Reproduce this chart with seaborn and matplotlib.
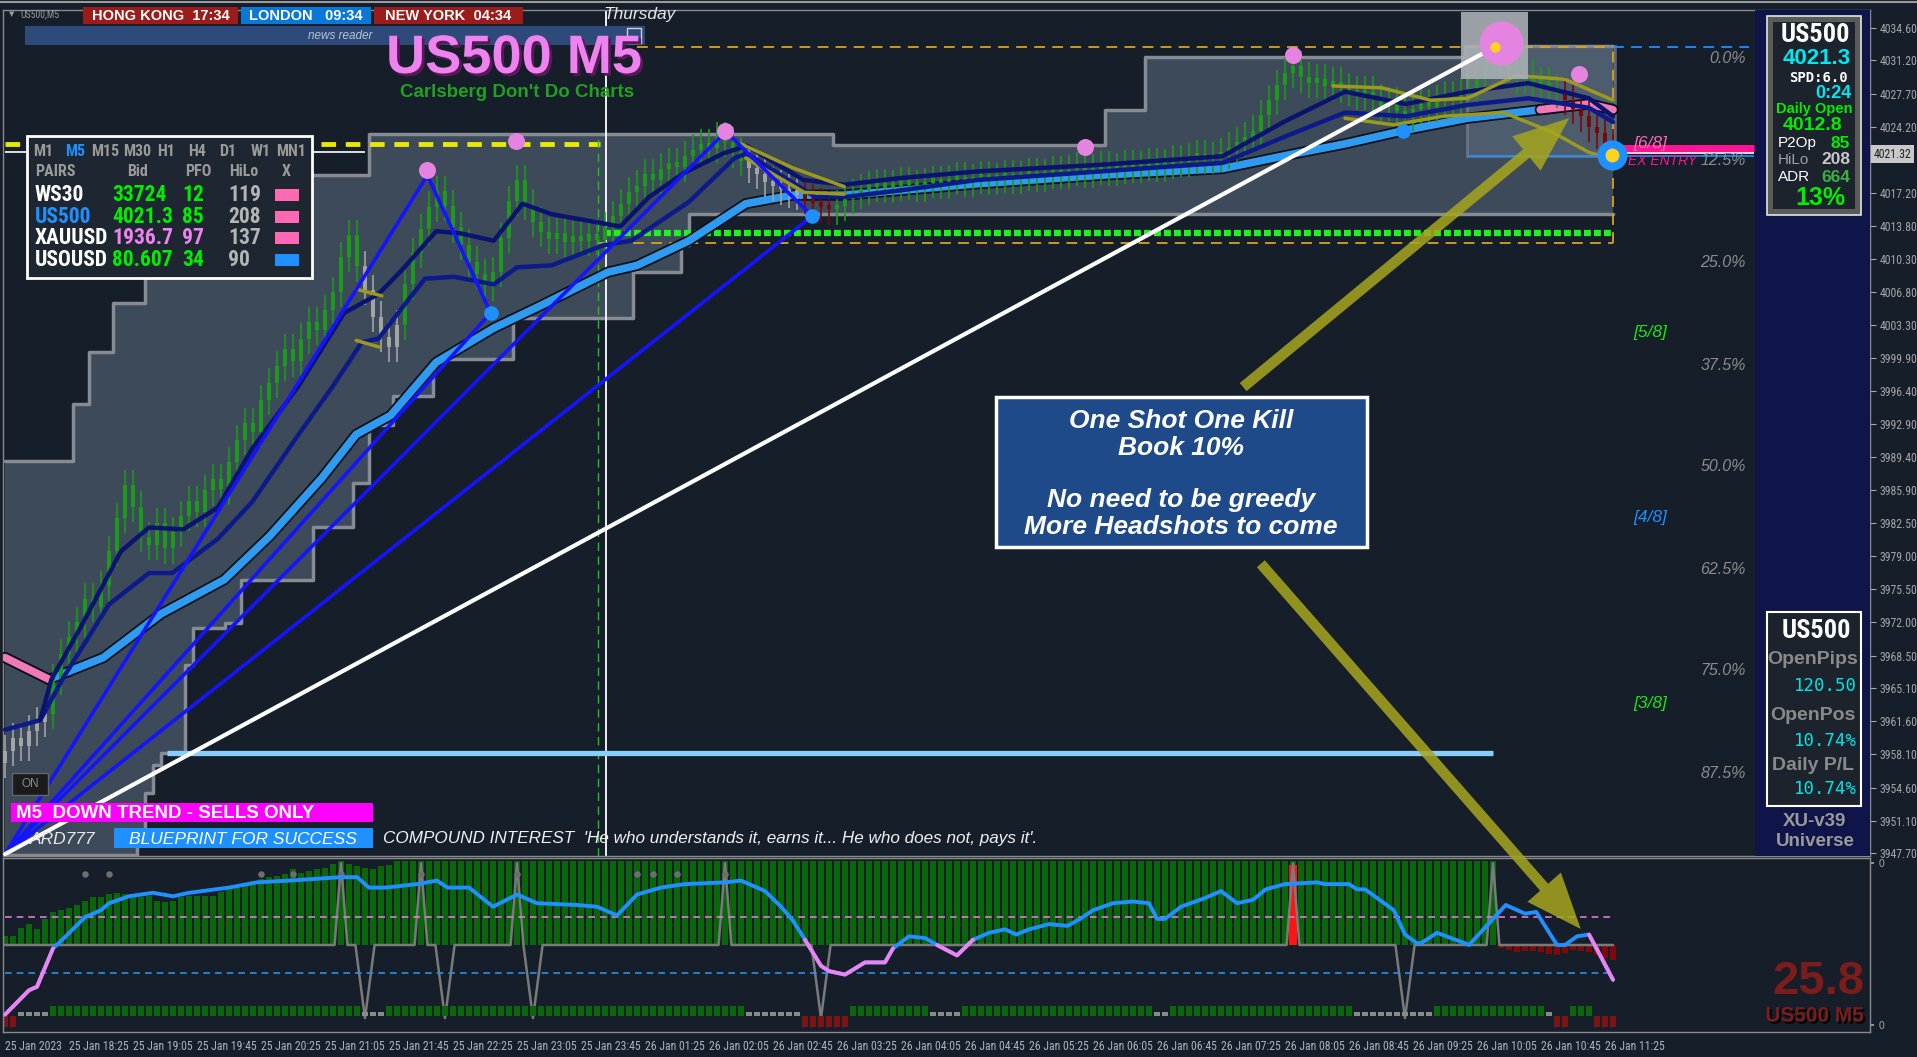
import matplotlib
matplotlib.use("Agg")
import matplotlib.pyplot as plt
import matplotlib.patheffects as pe
from matplotlib import font_manager as fm
from matplotlib.patches import Rectangle
import numpy as np
import pandas as pd
import seaborn as sns

# ---------------- data ----------------
# M5 closes, one per bar (bar 0 = 25 Jan 17:45)
closes = [
    3958.5, 3959.8, 3959.0, 3960.6, 3961.5, 3962.4,
    3966.0, 3968.7, 3970.5,
    3972.0, 3974.5, 3973.6, 3975.8,
    3979.5, 3983.0, 3986.5, 3984.2,
    3981.0, 3980.2, 3982.5, 3979.8, 3981.5, 3983.2,
    3984.8, 3983.6, 3985.9, 3987.1, 3986.0,
    3988.9, 3991.2, 3993.0, 3992.1, 3995.4, 3997.2,
    3999.0, 4000.8, 3999.5, 4001.9, 4003.6, 4002.8, 4004.9,
    4006.8, 4010.5, 4012.8, 4009.5,
    4007.0, 4004.2, 4002.1, 4001.0, 4003.3,
    4007.6, 4010.9, 4013.4, 4015.8,
    4017.4, 4015.9, 4013.6,
    4011.8, 4010.0, 4008.7, 4007.4, 4008.9,
    4012.5, 4016.4, 4018.6, 4016.0,
    4014.2, 4013.1, 4012.4, 4013.0, 4012.1, 4012.7, 4012.2, 4012.9, 4012.3,
    4013.6, 4014.8, 4016.1, 4017.3,
    4018.0, 4019.2, 4018.6, 4019.8, 4020.4, 4020.0, 4021.1,
    4021.8, 4022.4, 4022.0, 4023.1, 4022.6,
    4021.5, 4020.6, 4019.9, 4019.2, 4018.4, 4018.0,
    4017.6, 4017.2, 4017.0, 4016.6, 4016.2,
    4015.8, 4015.5, 4015.9, 4016.6,
    4017.1, 4017.6, 4017.9, 4018.2, 4017.8, 4018.0, 4018.4, 4018.1, 4017.9, 4018.3,
    4018.5, 4018.2, 4018.6, 4018.9, 4018.4, 4018.7, 4019.0, 4018.6, 4018.8, 4019.1,
    4018.7, 4019.0, 4019.3, 4018.9, 4019.2,
    4019.5, 4019.2, 4019.6, 4019.9, 4019.4, 4019.7, 4020.0, 4019.6, 4019.8, 4020.2,
    4019.9, 4020.1, 4020.4, 4020.0, 4020.3,
    4020.7, 4020.5, 4020.9, 4021.2, 4020.8, 4021.0, 4021.4,
    4022.0, 4022.6, 4023.1, 4023.8,
    4025.4, 4027.0, 4028.6, 4029.9, 4030.6,
    4029.4, 4028.8, 4029.2, 4028.5, 4028.9, 4028.3, 4028.0,
    4027.6, 4027.9, 4027.1, 4026.4, 4026.8, 4025.9, 4025.4,
    4026.1, 4026.6, 4026.3, 4027.0, 4027.4, 4027.1, 4027.8, 4028.2,
    4029.6, 4031.0, 4032.1, 4031.3,
    4029.9, 4029.2, 4029.6, 4028.7, 4028.9, 4028.2, 4027.8,
    4027.0, 4026.1, 4025.3, 4024.2, 4023.5,
    4022.4, 4021.3,
]
first_open = 3957.2
gray_runs = [(0, 6), (45, 50), (93, 100)]
red_runs = [(100, 104), (195, 202)]

time_labels = ["25 Jan 2023", "25 Jan 18:25", "25 Jan 19:05", "25 Jan 19:45", "25 Jan 20:25",
               "25 Jan 21:05", "25 Jan 21:45", "25 Jan 22:25", "25 Jan 23:05", "25 Jan 23:45",
               "26 Jan 01:25", "26 Jan 02:05", "26 Jan 02:45", "26 Jan 03:25", "26 Jan 04:05",
               "26 Jan 04:45", "26 Jan 05:25", "26 Jan 06:05", "26 Jan 06:45", "26 Jan 07:25",
               "26 Jan 08:05", "26 Jan 08:45", "26 Jan 09:25", "26 Jan 10:05", "26 Jan 10:45",
               "26 Jan 11:25"]
price_ticks = [4034.60, 4031.20, 4027.70, 4024.20, 4020.70, 4017.20, 4013.80, 4010.30, 4006.80,
               4003.30, 3999.90, 3996.40, 3992.90, 3989.40, 3985.90, 3982.50, 3979.00, 3975.50,
               3972.00, 3968.50, 3965.10, 3961.60, 3958.10, 3954.60, 3951.10, 3947.70]
last_price = 4021.32

# price channel (step levels: bar where the level starts, level)
ch_up_bar = [0, 9, 11, 14, 18, 24, 38, 46, 104, 138, 143, 183]
ch_up_val = [3989.0, 3995.0, 4000.5, 4005.6, 4009.0, 4014.0, 4019.1, 4023.4, 4022.3, 4026.0, 4031.6, 4032.7]
ch_lo_bar = [0, 17, 18, 19, 20, 23, 24, 28, 30, 39, 44, 46, 49, 54, 64, 79, 85, 86]
ch_lo_val = [3947.5, 3950.0, 3954.0, 3957.0, 3958.3, 3967.5, 3971.4, 3971.9, 3976.5, 3982.0,
             3986.7, 3992.8, 3995.8, 3999.7, 4004.1, 4008.9, 4011.7, 4015.0]

# moving averages (bar, price)
ma_slow_bar = [0, 5.5, 12.3, 19.5, 27.4, 33.1, 39.6, 43.9, 48.2, 53.9, 61.1, 66.8, 75.4, 79, 85.5,
               92.6, 98.4, 104.9, 111.9, 121.6, 137, 152.2, 161.4, 167.5, 174.8, 182.8, 191.9, 198, 201]
ma_slow_val = [3968.3, 3966.0, 3968.3, 3972.9, 3976.5, 3981.1, 3987.2, 3991.8, 3993.8, 3999.4,
               4003.0, 4005.3, 4008.9, 4009.6, 4012.2, 4016.1, 4017.0, 4017.0, 4017.5, 4018.2,
               4019.1, 4019.8, 4021.4, 4022.4, 4023.8, 4025.1, 4026.0, 4026.6, 4026.0]
ma_slow_pink = [(0, 5.5), (191.9, 201)]
ma_fast1_bar = [4.4, 5.8, 9.4, 14.5, 18.0, 22.3, 26.6, 30.9, 36.7, 42.4, 46.7, 49.6, 53.9, 56.8,
                61.1, 64.7, 68.3, 76.9, 80.5, 84.8, 89.8, 92.7, 99.8, 104.9, 111.9, 121.6, 137,
                152.2, 159.8, 167.5, 175.1, 182.8, 190.4, 198, 201]
ma_fast1_val = [3961.7, 3966.0, 3971.4, 3979.5, 3982.0, 3981.8, 3984.1, 3990.3, 3996.9, 4004.6,
                4006.6, 4009.1, 4013.2, 4013.0, 4012.2, 4016.1, 4015.0, 4013.7, 4016.8, 4019.3,
                4021.4, 4022.2, 4018.6, 4018.1, 4018.8, 4019.5, 4020.2, 4021.1, 4024.7, 4027.9,
                4026.6, 4027.9, 4028.8, 4027.2, 4025.3]
ma_fast2_bar = [0, 4.4, 7.3, 13.0, 18.0, 20.9, 26.6, 30.9, 36.7, 41, 44.6, 46.7, 49.6, 52.5, 56.1,
                61.1, 64, 68.3, 74.7, 78.3, 85.5, 91.2, 92.7, 101.3, 104.9, 111.9, 121.6, 137,
                152.2, 159.8, 167.5, 175.1, 182.8, 190.4, 198, 201]
ma_fast2_val = [3960.7, 3961.7, 3966.2, 3973.9, 3977.2, 3977.2, 3980.8, 3984.7, 3991.8, 3996.9,
                4001.5, 4001.9, 4005.1, 4008.2, 4008.4, 4007.6, 4009.4, 4009.6, 4011.7, 4012.2,
                4016.3, 4020.9, 4021.4, 4016.8, 4016.8, 4017.5, 4018.6, 4019.5, 4020.4, 4023.1,
                4025.7, 4025.3, 4026.5, 4027.2, 4026.2, 4024.7]
# short olive envelope pieces
band_bars = [[43.9, 47.1], [43.9, 46.8], [92, 98.4, 104.9], [92.6, 99.9, 104.9],
             [166, 172.1, 178.2, 182.8, 188.9, 195, 201], [167.5, 173.6, 179.7, 187.3, 193.5, 198, 201]]
band_vals = [[4007.1, 4006.4], [4001.7, 4001.0], [4022.4, 4019.9, 4017.9], [4020.9, 4017.3, 4017.1],
             [4028.5, 4028.3, 4027.0, 4027.2, 4029.6, 4029.2, 4027.0],
             [4025.1, 4024.4, 4025.3, 4025.7, 4023.6, 4021.5, 4020.8]]

# harmonic pattern pivots
piv_bar = [0, 52.8, 60.7, 90.1, 100.9]
piv_val = [3947.6, 4019.1, 4004.6, 4023.7, 4014.8]
piv_legs = [(0, 1), (1, 2), (2, 0), (0, 3), (3, 4), (4, 0)]
trend_bar = [0, 186.2]
trend_val = [3947.6, 4032.6]
support_val = 3958.3
support_span = (20.2, 186)

pink_dot_bar = [52.8, 63.9, 90, 135, 161, 196.8]
pink_dot_val = [4019.6, 4022.7, 4023.8, 4022.1, 4031.8, 4029.8]

fib_labels = ["0.0%", "12.5%", "25.0%", "37.5%", "50.0%", "62.5%", "75.0%", "87.5%"]
fib_prices = [4031.4, 4020.6, 4009.9, 3999.1, 3988.4, 3977.6, 3966.9, 3956.1]
mm_labels = ["[6/8]", "[5/8]", "[4/8]", "[3/8]"]
mm_prices = [4022.4, 4002.5, 3983.0, 3963.5]
mm_colors = ["#ff69b4", "#19e619", "#1e90ff", "#19e619"]

# lower oscillator
hist_vals = [55.4, 55.4, 60.0, 62.0, 59.0, 65.0, 69.0, 70.0, 71.0, 73.0,
             75.4, 77.3, 77.7, 79.2, 79.6, 79.2, 77.3, 77.3, 78.3, 75.4,
             74.5, 75.4, 77.3, 78.3, 78.3, 78.3, 78.3, 80.2, 82.1, 84.0,
             85.0, 86.9, 87.8, 89.1, 89.7, 90.7, 93.5, 91.1, 92.6, 93.5,
             94.5, 96.7, 98.3, 96.7, 95.4, 94.1, 93.5, 95.4, 96.0] + [98.3] * 138
hist_red = [48.4, 47.2, 45.9, 46.5, 46.5, 45.9, 45.0, 44.0, 45.4, 47.2, 46.5, 45.9, 44.0, 42.7, 41.5]
osc_bar = [0, 3, 4, 6, 7.6, 10, 12, 13, 15.5, 18.5, 21, 23, 28, 31.5, 35.5, 42, 44, 45.5, 47.6, 51.5,
           54, 55.3, 58, 61, 64, 66.5, 71.5, 74, 76.5, 79, 82, 85, 90, 92, 95, 97, 98.5, 100, 102, 103,
           105, 107.5, 110, 111, 113, 115, 116.5, 119, 121, 123, 125, 126.4, 128, 130.5, 132.8, 134.4,
           136, 138.5, 141, 143, 144, 145, 147, 150, 152, 154, 156, 157.6, 160, 164, 165, 168, 169,
           170, 173.6, 175, 176.5, 177, 179, 182.5, 183, 186.4, 187.6, 190, 191.4, 194, 195, 196.5,
           198, 199.4, 201]
osc_val = [10, 24, 26, 48, 55, 66, 70, 74, 78, 80, 78, 80, 83, 86, 87, 89, 89, 83, 83, 85,
           87, 83, 83, 72, 79, 74, 73, 72, 67, 79, 83, 85, 86, 87, 81, 72, 64, 53, 38, 35,
           33, 40, 40, 48, 55, 54, 50, 44, 53, 57, 59, 56, 59, 62, 61, 65, 70, 74, 75, 74,
           65, 65, 72, 77, 81, 74, 76, 82, 85, 86, 85, 85, 82, 82, 70, 56, 51, 51, 57, 51,
           50, 67, 73, 68, 69, 50, 50, 55, 56, 44, 30]
osc_pink = [(0, 6), (100, 111), (116.5, 121), (198, 201)]
spike_up = [42, 52, 64, 90, 161, 186]
spike_dn = [45, 55, 66, 102, 175]
top_dots = [10, 13, 32, 36, 42, 52, 64, 79, 81, 84, 90]
run_start = [0, 2, 6, 45, 48, 93, 100, 106, 116, 120, 144, 146, 169, 179, 193, 194, 196, 199]
run_end = [2, 6, 45, 48, 93, 100, 106, 116, 120, 144, 146, 169, 179, 193, 194, 196, 199, 202]
run_kind = ["r", "s", "g", "s", "g", "s", "r", "g", "s", "g", "s", "g", "s", "g", "s", "r", "g", "r"]

# ---------------- style ----------------
W, H = 1917, 1057
BG = "#161e2a"
NAVY = "#0f1548"
GREEN = "#1c9a1c"
OLIVE = "#a6a61c"

sns.set_theme(style="dark", rc={"axes.facecolor": BG, "figure.facecolor": BG,
                                "axes.edgecolor": "#8a8a8a", "grid.color": BG,
                                "text.color": "white"})
plt.rcParams["font.family"] = ["Liberation Sans", "DejaVu Sans"]


def _wt(f):
    return f.weight if isinstance(f.weight, int) else fm.weight_dict.get(f.weight, 400)


# a narrow face that also has a bold cut, else plain Liberation Sans made smaller
bold_narrow = sorted({f.name for f in fm.fontManager.ttflist
                      if ("Narrow" in f.name or "Condensed" in f.name) and _wt(f) >= 600
                      and f.style == "normal"})
pref = [nm for nm in ["Liberation Sans Narrow", "Roboto Condensed", "Open Sans Condensed"]
        if nm in bold_narrow] + bold_narrow
NARROW = pref[0] if pref else "Liberation Sans"
NK = 1.0 if pref else 0.8

fig = plt.figure(figsize=(W / 100, H / 100), dpi=100)


def ftext(x, y, s, size, color="white", ha="center", narrow=False, z=10, fam=None, va="center", **kw):
    if fam is None:
        fam = NARROW if narrow else "Liberation Sans"
    sz = size * NK if narrow else size
    return fig.text(x / W, 1 - y / H, s, fontsize=sz, color=color, ha=ha, va=va,
                    family=[fam, "DejaVu Sans"], zorder=z, **kw)


def fbox(x0, y0, x1, y1, face, edge="none", lw=0, z=8, alpha=1.0):
    fig.add_artist(Rectangle((x0 / W, 1 - y1 / H), (x1 - x0) / W, (y1 - y0) / H,
                             transform=fig.transFigure, facecolor=face, edgecolor=edge,
                             lw=lw, zorder=z, alpha=alpha))


ax = fig.add_axes([3 / W, 1 - 856 / H, 1867 / W, 846 / H])
ax2 = fig.add_axes([3 / W, 1 - 1032 / H, 1867 / W, 174 / H])
XL = (-0.25, 233.125)

# ---------------- main price panel ----------------
n = len(closes)
bars = np.arange(n)
c = np.array(closes)
o = np.r_[first_open, c[:-1]]

upper = pd.Series(ch_up_val, index=ch_up_bar).reindex(bars).ffill().values
lower = pd.Series(ch_lo_val, index=ch_lo_bar).reindex(bars).ffill().values
ax.fill_between(bars, lower, upper, step="mid", color="#3d4a5a", zorder=1, lw=0)
ax.step(bars, upper, where="mid", color="#878c93", lw=2.5, zorder=1.2)
ax.step(bars, lower, where="mid", color="#878c93", lw=2.5, zorder=1.2)

cols = np.array([GREEN] * n, dtype=object)
for a, b in gray_runs:
    cols[a:b] = "#a3a3a3"
for a, b in red_runs:
    cols[a:b] = "#7a0808"
lo_body = np.minimum(o, c)
hi_body = np.maximum(o, c)
ax.vlines(bars, lo_body - 1.6, hi_body + 1.6, colors=list(cols), lw=1.2, zorder=3)
ax.bar(bars, np.maximum(hi_body - lo_body, 0.5), bottom=lo_body, width=0.62,
       color=list(cols), lw=0, zorder=3)

# moving averages
outline = [pe.Stroke(linewidth=8, foreground="#0b1018"), pe.Normal()]
sns.lineplot(x=ma_fast2_bar, y=ma_fast2_val, ax=ax, color="#0c1a8a", lw=3.2, sort=False,
             estimator=None, zorder=3.5)
sns.lineplot(x=ma_fast1_bar, y=ma_fast1_val, ax=ax, color="#0a1470", lw=3.2, sort=False,
             estimator=None, zorder=3.5)
sns.lineplot(x=ma_slow_bar, y=ma_slow_val, ax=ax, color="#2e9bf0", lw=5.5, sort=False,
             estimator=None, zorder=2.7, path_effects=outline)
for a, b in ma_slow_pink:
    sel = [(x, y) for x, y in zip(ma_slow_bar, ma_slow_val) if a <= x <= b]
    sns.lineplot(x=[p[0] for p in sel], y=[p[1] for p in sel], ax=ax, color="#f07ab8",
                 lw=5.5, sort=False, estimator=None, zorder=2.8, path_effects=outline)
for bx, bv in zip(band_bars, band_vals):
    sns.lineplot(x=bx, y=bv, ax=ax, color="#9c9a1e", lw=2.5, sort=False, estimator=None, zorder=3.6)

# levels
ax.hlines(4022.4, 0, 74.4, colors="#e8e800", lw=3.5, linestyles=(0, (3, 2)), zorder=2)
ax.hlines(4021.5, 0, 45, colors="white", lw=1.2, zorder=2)
ax.hlines(4013.0, 74.9, 201, colors="#22f022", lw=4.5, linestyles=(0, (1.1, 0.5)), zorder=2)
ax.hlines(4032.6, 79, 201, colors="#d9a21e", lw=1.3, linestyles=(0, (6, 4)), zorder=2)
ax.hlines(4032.6, 201, 218, colors="#1e90ff", lw=1.3, linestyles=(0, (6, 4)), zorder=2)
ax.hlines(4012.0, 74, 201, colors="#d9a21e", lw=1.3, linestyles=(0, (6, 4)), zorder=2)
ax.vlines(201, 4012.0, 4032.6, colors="#d9a21e", lw=1.3, linestyles=(0, (6, 4)), zorder=2)
ax.vlines(74.1, 3947.4, 4023.5, colors="#22c022", lw=1.0, linestyles=(0, (6, 4)), zorder=2)
ax.axvline(75.1, color="white", lw=1.3, zorder=2.1)
ax.hlines(support_val, *support_span, colors="#87cefa", lw=3.8, zorder=4)

# highlight box at the top right
ax.add_patch(Rectangle((182.75, 4021.1), 18.5, 11.6, facecolor="#5d6d80", alpha=0.55,
                       edgecolor="#8a8f96", lw=2, zorder=1.5))
ax.hlines(4021.1, 182.75, 218.6, colors="#1e90ff", lw=1.2, zorder=5)
ax.hlines(4021.4, 201, 218.6, colors="white", lw=1.2, zorder=5)
ax.hlines(4022.0, 201, 218.6, colors="#ff1493", lw=5, zorder=5)
ax.add_patch(Rectangle((182, 4029.2), 8.4, 7.1, facecolor="#a9afb4", alpha=0.9, lw=0, zorder=5))

# harmonic pattern and trend line
for a, b in piv_legs:
    sns.lineplot(x=[piv_bar[a], piv_bar[b]], y=[piv_val[a], piv_val[b]], ax=ax, color="#1414ff",
                 lw=2.6, sort=False, estimator=None, zorder=5)
sns.lineplot(x=trend_bar, y=trend_val, ax=ax, color="white", lw=3, sort=False, estimator=None, zorder=5)

sns.scatterplot(x=pink_dot_bar, y=pink_dot_val, ax=ax, color="#e584e0", s=150, lw=0, zorder=6)
ax.scatter([187], [4033.0], s=1000, color="#e584e0", lw=0, zorder=6)
ax.scatter([186.2], [4032.6], s=55, color="#ffd21e", lw=0, zorder=6.5)
ax.scatter([piv_bar[2], piv_bar[4], 174.8], [piv_val[2], piv_val[4], 4023.75], s=110,
           color="#1e90ff", lw=0, zorder=6)
ax.scatter([200.9], [4021.2], s=470, color="#1e90ff", lw=0, zorder=6)
ax.scatter([200.9], [4021.2], s=100, color="#ffd21e", lw=0, zorder=6.5)

# fib / murrey labels
for lab, p in zip(fib_labels, fib_prices):
    ax.text(217.6, p, lab, ha="right", va="center", fontsize=11.5, style="italic",
            color="#8c8c8c", zorder=6)
for lab, p, col in zip(mm_labels, mm_prices, mm_colors):
    ax.text(205.6, p, lab, ha="center", va="center", fontsize=12.5, style="italic",
            color=col, zorder=6)
ax.text(202.9, 4020.6, "EX ENTRY", ha="left", va="center", fontsize=10, style="italic",
        color="#ff1493", zorder=6)

# arrows
arrow = dict(arrowstyle="simple,head_length=2.0,head_width=1.6,tail_width=0.38",
             color=OLIVE, alpha=0.85, lw=0, mutation_scale=20, clip_on=False)
ax.annotate("", xy=(195.8, 4025.3), xytext=(154.5, 3996.6), arrowprops=arrow, zorder=6)
ax2.annotate("", xy=(197.2, 58), xycoords="data", xytext=(156.75, 3978.4),
             textcoords=ax.transData, arrowprops=arrow, annotation_clip=False, zorder=9)

ax.axvspan(218.75, XL[1], color=NAVY, zorder=7, lw=0)
ax.set_xlim(*XL)
ax.set_ylim(3947.4, 4036.5)
ax.yaxis.tick_right()
ax.set_yticks(price_ticks)
# the 4020.70 label sits under the live-price tag
ax.set_yticklabels(["" if abs(v - last_price) < 1 else f"{v:.2f}" for v in price_ticks],
                   family=[NARROW, "DejaVu Sans"])
ax.tick_params(axis="y", length=4, pad=3, labelsize=8.5 * NK, colors="#a6a6a6", width=0.8)
ax.tick_params(axis="x", bottom=False, labelbottom=False)
ax.text(1.002, last_price, f"{last_price:.2f}", transform=ax.get_yaxis_transform(),
        ha="left", va="center", fontsize=8.5 * NK, color="#202020", family=[NARROW, "DejaVu Sans"],
        bbox=dict(boxstyle="square,pad=0.2", facecolor="#c8c8c8", edgecolor="none"), clip_on=False)
for s in ax.spines.values():
    s.set_color("#8a8a8a")
    s.set_linewidth(1)
ax.set_xlabel("")
ax.set_ylabel("")

# ---------------- oscillator panel ----------------
ax2.bar(np.arange(len(hist_vals)), np.array(hist_vals) - 50, bottom=50, width=0.72,
        color="#0b650b", lw=0, zorder=1)
red_x = np.arange(len(hist_vals), len(hist_vals) + len(hist_red))
ax2.bar(red_x, np.array(hist_red) - 50, bottom=50, width=0.72, color="#7d0a0a", lw=0, zorder=1)
ax2.bar([spike_up[4]], [46], bottom=50, width=1.1, color="#ff1414", lw=0, zorder=1.5)

gx, gy = [0.0], [50.0]
for s, peak, hw in sorted([(s, 97, 0.8) for s in spike_up] + [(s, 8, 1.2) for s in spike_dn]):
    gx += [s - hw, s, s + hw]
    gy += [50, peak, 50]
gx.append(201)
gy.append(50)
ax2.plot(gx, gy, color="#7a7a7a", lw=1.8, zorder=2)

ax2.hlines(66, 0, 201, colors="#e07ad8", lw=1.2, linestyles=(0, (4, 3)), zorder=2)
ax2.hlines(34, 0, 201, colors="#2b8fe8", lw=1.2, linestyles=(0, (4, 3)), zorder=2)
ax2.scatter(top_dots, [91] * len(top_dots), s=22, color="#6e6e6e", lw=0, zorder=3)

kind_style = {"g": ("#0b650b", 9.3, 5.8), "s": ("#8a8a8a", 9.3, 2.0), "r": ("#7d1414", 3.0, 6.2)}
for a, b, k in zip(run_start, run_end, run_kind):
    col, bot, hgt = kind_style[k]
    ax2.bar(np.arange(a, b), hgt, bottom=bot, width=0.8, color=col, lw=0, zorder=2)

sns.lineplot(x=osc_bar, y=osc_val, ax=ax2, color="#1e90ff", lw=2.8, sort=False,
             estimator=None, zorder=4)
for a, b in osc_pink:
    sel = [(x, y) for x, y in zip(osc_bar, osc_val) if a <= x <= b]
    sns.lineplot(x=[p[0] for p in sel], y=[p[1] for p in sel], ax=ax2, color="#ee82ee",
                 lw=2.8, sort=False, estimator=None, zorder=4.5)

ax2.set_xlim(*XL)
ax2.set_ylim(0, 100)
ax2.yaxis.tick_right()
ax2.set_yticks([4, 97])
ax2.set_yticklabels(["0", "0"])
ax2.tick_params(axis="y", length=3, pad=3, labelsize=7.5, colors="#a6a6a6")
ax2.set_xticks(list(range(0, 8 * len(time_labels), 8)))
ax2.set_xticklabels(time_labels, ha="left", family=[NARROW, "DejaVu Sans"])
ax2.tick_params(axis="x", length=4, pad=2, labelsize=8.5 * NK, colors="#a9b5c4", width=0.8)
for s in ax2.spines.values():
    s.set_color("#8a8a8a")
    s.set_linewidth(1)
ax2.set_xlabel("")
ax2.set_ylabel("")

ftext(1864, 982, "25.8", 34, color="#7c1c1c", ha="right", weight="bold")
ftext(1864, 1016, "US500 M5", 15, color="#7c1c1c", ha="right", weight="bold",
      path_effects=[pe.withSimplePatchShadow(offset=(1.5, -1.5), shadow_rgbFace="black", alpha=1)])

# ---------------- overlays ----------------
fig.add_artist(plt.Line2D([0, 1], [1 - 1.5 / H, 1 - 1.5 / H], transform=fig.transFigure,
                          color="#9a9a9a", lw=1.5))
ftext(12, 14, "\u25bc", 5, color="#9a9a9a", fam="DejaVu Sans")
ftext(20, 14, "US500,M5", 7, color="#9a9a9a", ha="left", narrow=True)
for x0, x1, lab, col in [(83, 238, "HONG KONG  17:34", "#9c1c1c"),
                         (241, 371, "LONDON   09:34", "#0a78d7"),
                         (374, 523, "NEW YORK  04:34", "#9c1c1c")]:
    fbox(x0, 7, x1, 24, col)
    ftext((x0 + x1) / 2, 16, lab, 10.5, weight="bold")
ftext(640, 15, "Thursday", 12.5, color="#e6e6e6", style="italic")
fbox(25, 26, 645, 45, "#2e4a7a", z=8)
ftext(372, 36, "news reader", 8.5, color="#b9c3d3", ha="right", style="italic")
fbox(627, 28, 641, 43, "none", edge="#c8d0dc", lw=1, z=9)

title_fx = [pe.withSimplePatchShadow(offset=(2, -2), shadow_rgbFace="#5a1a5a", alpha=1)]
ftext(514, 73, "US500 M5", 39, color="#ee82ee", weight="bold", va="baseline", path_effects=title_fx)
ftext(517, 97, "Carlsberg Don't Do Charts", 13.5, color="#22a022", weight="bold", va="baseline")

# watch-list table
fbox(27, 136, 312, 278, "#1e2731", edge="white", lw=2, z=8)
tf_labels = ["M1", "M5", "M15", "M30", "H1", "H4", "D1", "W1", "MN1"]
tf_x = [43, 75, 105, 137, 166, 197, 228, 261, 291]
for lab, x in zip(tf_labels, tf_x):
    ftext(x, 152, lab, 11.5, color="#1e90ff" if lab == "M5" else "#9a9a9a", weight="bold", narrow=True)
ftext(35, 172, "PAIRS", 11.5, color="#9a9a9a", ha="left", weight="bold", narrow=True)
for lab, x in [("Bid", 137), ("PFO", 198), ("HiLo", 244), ("X", 286)]:
    ftext(x, 172, lab, 11.5, color="#9a9a9a", weight="bold", narrow=True)
pairs = ["WS30", "US500", "XAUUSD", "USOUSD"]
pair_colors = ["white", "#1e90ff", "white", "white"]
bids = ["33724", "4021.3", "1936.7", "80.607"]
bid_colors = ["#00ee00", "#00ee00", "#ee82ee", "#00ee00"]
pfo = ["12", "85", "97", "34"]
hilo = ["119", "208", "137", "90"]
x_colors = ["#ff69b4", "#ff69b4", "#ff69b4", "#1e90ff"]
for i, y in enumerate([195, 217, 238, 260]):
    ftext(35, y, pairs[i], 15.5, color=pair_colors[i], ha="left", weight="bold", narrow=True)
    ftext(112, y, bids[i], 15.5, color=bid_colors[i], ha="left", weight="bold", narrow=True)
    ftext(182, y, pfo[i], 15.5, color=bid_colors[i], ha="left", weight="bold", narrow=True)
    ftext(228, y, hilo[i], 15.5, color="#b4b4b4", ha="left", weight="bold", narrow=True)
    fbox(275, y - 6, 299, y + 6, x_colors[i], z=9)

# signal box
fbox(996, 397, 1367, 547, "#1f4a8a", edge="white", lw=2.5, z=8)
ftext(1181, 474, "One Shot One Kill\nBook 10%\n\nNo need to be greedy\nMore Headshots to come",
      19, weight="bold", style="italic", linespacing=1.12)

# bottom-left banners
fbox(12, 773, 48, 795, "#1b1b1b", edge="#666666", lw=1, z=8)
ftext(30, 784, "ON", 8.5, color="#8a8a8a")
fbox(11, 803, 373, 822, "#ff00ff", z=8)
ftext(16, 813, "M5  DOWN TREND - SELLS ONLY", 13.5, ha="left", weight="bold")
ftext(30, 839, "ARD777", 12.5, ha="left", style="italic", color="#e8e8e8")
fbox(114, 828, 373, 848, "#1e90ff", z=8)
ftext(243, 839, "BLUEPRINT FOR SUCCESS", 12.5, style="italic")
ftext(383, 839, "COMPOUND INTEREST  'He who understands it, earns it... He who does not, pays it'.",
      12.3, ha="left", style="italic", color="#f0f0f0")

# right info column
fbox(1767, 16, 1861, 215, "#5a5a5a", edge="#d8ecd8", lw=1.2, z=8)
fbox(1773, 22, 1855, 209, "#1c232d", z=8.5)
ftext(1850, 35, "US500", 19, ha="right", weight="bold", narrow=True)
ftext(1851, 59, "4021.3", 16, color="#00e8f0", ha="right", weight="bold")
ftext(1848, 78, "SPD:6.0", 10, ha="right", weight="bold", fam="DejaVu Sans Mono")
ftext(1851, 94, "0:24", 13, color="#00e8f0", ha="right", weight="bold")
ftext(1814, 109, "Daily Open", 10.5, color="#00ee00", weight="bold")
ftext(1813, 126, "4012.8", 14, color="#00ee00", weight="bold")
for y, lab, labc, val, valc in [(143, "P2Op", "white", "85", "#00ee00"),
                                (160, "HiLo", "#a0a0a0", "208", "#c8c8c8"),
                                (177, "ADR", "white", "664", "#3cb043")]:
    ftext(1778, y, lab, 11, color=labc, ha="left")
    ftext(1850, y, val, 12.5, color=valc, ha="right", weight="bold")
ftext(1820, 198, "13%", 18, color="#00ee00", weight="bold")

fbox(1767, 612, 1861, 806, "#1c232d", edge="white", lw=1.5, z=8)
ftext(1816, 631, "US500", 19, weight="bold", narrow=True)
for y, lab in [(660, "OpenPips"), (716, "OpenPos"), (765, "Daily P/L")]:
    ftext(1813, y, lab, 14, color="#8a8a8a", weight="bold")
for y, val in [(686, "120.50"), (741, "10.74%"), (789, "10.74%")]:
    ftext(1857, y, val, 12.5, color="#00e5e5", ha="right", fam="DejaVu Sans Mono")
ftext(1815, 822, "XU-v39", 13.5, color="#9a9a9a", weight="bold")
ftext(1815, 841, "Universe", 13.5, color="#9a9a9a", weight="bold")

fig.savefig("out.png", dpi=100, facecolor=BG)
